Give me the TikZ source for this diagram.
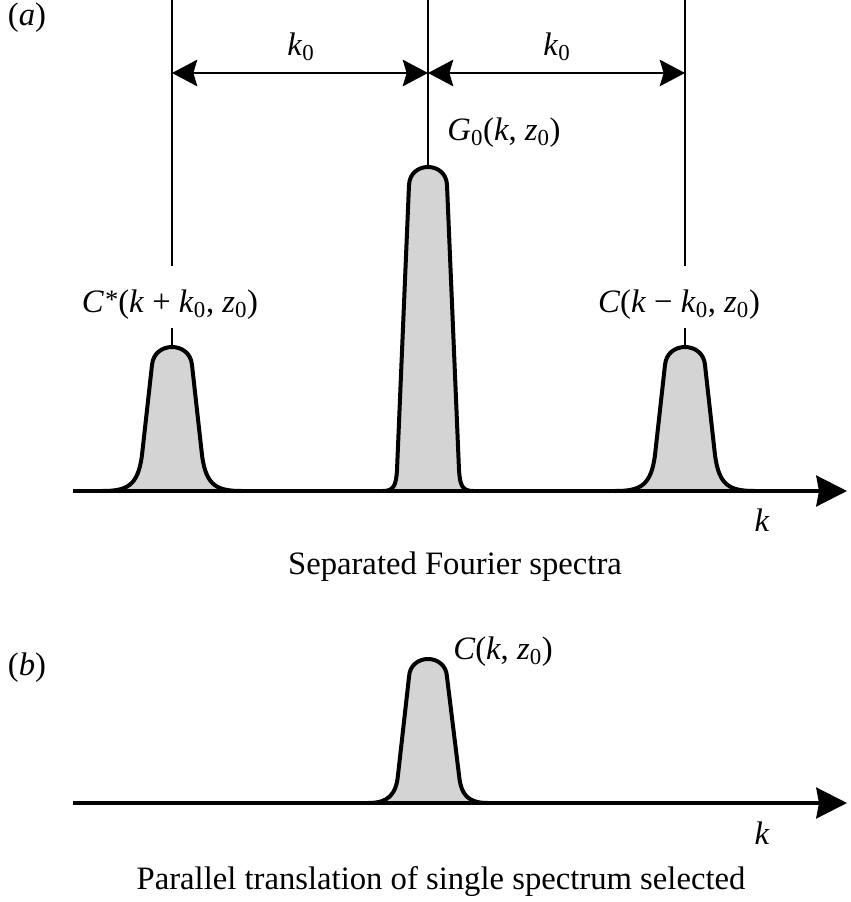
\documentclass[tikz,border=0pt]{standalone}
\usepackage{fontspec}
\setmainfont{Liberation Serif}
\usetikzlibrary{arrows.meta}
\newcommand{\sbz}{\textsubscript{0}}
\newcommand{\astr}{\raisebox{0.12em}{\fontsize{20}{20}\selectfont *}}
\begin{document}
\begin{tikzpicture}[x=0.75pt,y=-0.75pt,
  every node/.style={inner sep=0pt,font=\fontsize{24.5}{30}\selectfont},
  peak/.style={fill={rgb,255:red,212;green,212;blue,212},draw=black,line width=3pt,line join=round},
  axisline/.style={line width=3pt,-{Stealth[length=23pt,width=23pt,inset=2pt]}},
  guide/.style={line width=1.1pt},
  dim/.style={line width=1.1pt,{Stealth[length=19pt,width=20pt,inset=3pt]}-{Stealth[length=19pt,width=20pt,inset=3pt]}}]
\useasboundingbox (0,0) rectangle (850,902);
% (a) peaks
\foreach \c in {172,685}{
  \draw[peak] (\c-70,491) .. controls (\c-45,491) and (\c-34,486) .. (\c-30,455) -- (\c-20,365) .. controls (\c-18,341) and (\c+18,341) .. (\c+20,365) -- (\c+30,455) .. controls (\c+34,486) and (\c+45,491) .. (\c+70,491);
}
\draw[peak] (428-45,491) .. controls (428-34,491) and (428-32,485) .. (428-31,470) -- (428-19,185) .. controls (428-18,161) and (428+18,161) .. (428+19,185) -- (428+31,470) .. controls (428+32,485) and (428+34,491) .. (428+45,491);
% (b) peak
\draw[peak] (428-60,803) .. controls (428-40,803) and (428-32,795) .. (428-30,775) -- (428-19,677) .. controls (428-18,653) and (428+18,653) .. (428+19,677) -- (428+31,775) .. controls (428+33,795) and (428+40,803) .. (428+60,803);
% coordinates
\coordinate (lp) at (172,347);
\coordinate (cp) at (428,167);
\coordinate (rp) at (685,347);
\coordinate (ls) at (172,328);
\coordinate (rs) at (685,328);
\coordinate (lu) at (172,266);
\coordinate (ru) at (685,266);
\coordinate (lt) at (172,0);
\coordinate (ct) at (428,0);
\coordinate (rt) at (685,0);
\coordinate (la) at (172,73);
\coordinate (ca) at (428,73);
\coordinate (ra) at (685,73);
\coordinate (a0) at (73,491);
\coordinate (a1) at (847,491);
\coordinate (b0) at (73,803);
\coordinate (b1) at (847,803);
% guides
\draw[guide] (lp) -- (ls);
\draw[guide] (lu) -- (lt);
\draw[guide] (cp) -- (ct);
\draw[guide] (rp) -- (rs);
\draw[guide] (ru) -- (rt);
\draw[dim] (la) -- (ca);
\draw[dim] (ca) -- (ra);
% axes
\draw[axisline] (a0) -- (a1);
\draw[axisline] (b0) -- (b1);
% labels
\node (la_lbl) at (27,18) {(\textit{a})};
\node (k0l) at (301,47) {\textit{k}\sbz};
\node (k0r) at (557,47) {\textit{k}\sbz};
\node (g0) at (504,133) {\textit{G}\sbz(\textit{k}, \textit{z}\sbz)};
\node (cs) at (170,305) {\textit{C}\kern0.03em\astr(\textit{k} + \textit{k}\sbz, \textit{z}\sbz)};
\node (cm) at (679,305) {\textit{C}(\textit{k} − \textit{k}\sbz, \textit{z}\sbz)};
\node (ka) at (762,520) {\textit{k}};
\node (capa) at (455,567) {Separated Fourier spectra};
\node (lb_lbl) at (27,668) {(\textit{b})};
\node (ck) at (503,652) {\textit{C}(\textit{k}, \textit{z}\sbz)};
\node (kb) at (762,833) {\textit{k}};
\node (capb) at (441,882) {Parallel translation of single spectrum selected};
\end{tikzpicture}
\end{document}
